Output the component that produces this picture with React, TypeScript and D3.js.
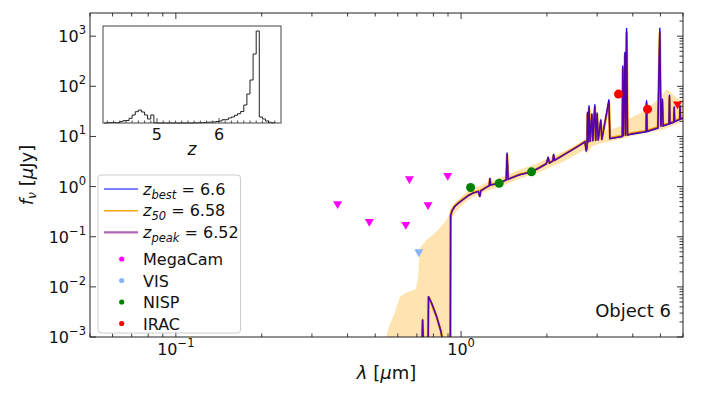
import React from 'react';
import * as d3 from 'd3';

// best-fit / z50 / zpeak model SEDs, lambda in micron, flux in microJy
const sedLam = [
  0.4, 0.72, 0.727, 0.733, 0.738, 0.746, 0.765, 0.769, 0.79, 0.82, 0.85, 0.875, 0.9, 0.916,
  0.919, 0.93, 0.95, 0.98, 1.02, 1.06, 1.1, 1.15, 1.163, 1.172, 1.22, 1.255, 1.262, 1.27,
  1.36, 1.44, 1.45, 1.462, 1.6, 1.77, 1.9, 1.99, 2.02, 2.04, 2.1, 2.11, 2.13, 2.4, 2.6,
  2.72, 2.745, 2.765, 2.775, 2.79, 2.81, 2.835, 2.875, 2.895, 2.945, 2.965, 3.0, 3.025,
  3.09, 3.115, 3.3, 3.325, 3.55, 3.675, 3.69, 3.71, 3.755, 3.775, 3.805, 3.835, 4.0, 4.25,
  4.455, 4.47, 4.49, 4.9, 4.975, 5.02, 5.08, 5.11, 5.36, 5.38, 5.4, 5.57, 5.59, 5.61, 5.84,
  5.86, 5.88, 6.2,
];
const fluxBest = [
  1e-5, 1e-5, 2e-4, 0.0022, 6e-4, 2e-4, 2e-4, 0.0064, 0.0046, 0.0026, 0.0013, 5e-4, 1e-4, 1e-5,
  0.26, 0.33, 0.4, 0.47, 0.56, 0.66, 0.74, 0.8, 0.62, 0.82, 0.95, 1.04, 1.5, 1.08,
  1.16, 1.36, 4.8, 1.4, 1.72, 1.97, 2.45, 2.85, 3.9, 2.95, 3.25, 4.5, 3.35, 5.0, 6.6,
  7.8, 5.0, 6.0, 31, 7.5, 42, 7.8, 29, 8.0, 44, 8.2, 30, 8.3,
  22, 8.5, 55, 9.0, 9.6, 9.9, 260, 10.1, 490, 10.4, 1450, 10.6, 11.2, 11.8,
  12.3, 53, 12.5, 14.6, 1480, 15.6, 57, 16.1, 17.6, 68, 17.9, 19.2, 40, 19.6, 21.8,
  42, 22.2, 24,
];
const flux50 = [
  1e-5, 1e-5, 2e-4, 0.0021, 6e-4, 2e-4, 2e-4, 0.0062, 0.0045, 0.0026, 0.0013, 5e-4, 1e-4, 1e-5,
  0.27, 0.34, 0.41, 0.48, 0.57, 0.67, 0.75, 0.81, 0.66, 0.83, 0.96, 1.05, 1.4, 1.09,
  1.17, 1.37, 4.2, 1.41, 1.74, 1.99, 2.47, 2.88, 3.6, 2.98, 3.28, 4.1, 3.38, 5.1, 6.7,
  8.0, 5.4, 6.3, 27, 7.8, 36, 8.1, 26, 8.3, 38, 8.5, 27, 8.6,
  20, 8.8, 48, 9.3, 10.0, 10.3, 220, 10.5, 420, 10.8, 1150, 11.0, 11.7, 12.3,
  12.8, 46, 13.0, 15.2, 1150, 16.2, 50, 16.7, 18.2, 60, 18.5, 19.8, 36, 20.2, 22.4,
  38, 22.8, 24.6,
];
const fluxPeak = [
  1e-5, 1e-5, 2e-4, 0.0023, 6e-4, 2e-4, 2e-4, 0.0065, 0.0046, 0.0026, 0.0013, 5e-4, 1e-4, 1e-5,
  0.26, 0.33, 0.4, 0.47, 0.56, 0.66, 0.74, 0.8, 0.64, 0.82, 0.95, 1.04, 1.45, 1.08,
  1.16, 1.36, 4.5, 1.4, 1.73, 1.98, 2.46, 2.86, 3.7, 2.96, 3.26, 4.3, 3.36, 5.05, 6.65,
  7.9, 5.2, 6.1, 29, 7.6, 39, 7.9, 27, 8.1, 41, 8.3, 28, 8.4,
  21, 8.6, 51, 9.1, 9.8, 10.1, 240, 10.3, 450, 10.6, 1300, 10.8, 11.5, 12.1,
  12.6, 49, 12.8, 15.0, 1300, 16.0, 53, 16.5, 18.0, 64, 18.3, 19.6, 38, 20.0, 22.2,
  40, 22.6, 24.4,
];

// 1-sigma band around the model
const bandLam = [
  0.53, 0.56, 0.587, 0.611, 0.636, 0.66, 0.695, 0.708, 0.714, 0.718, 0.758, 0.8, 0.832, 0.862,
  0.891, 0.915, 0.918, 0.94, 0.966, 1.0, 1.05, 1.1, 1.2, 1.3, 1.45, 1.6, 1.8, 2.0, 2.2, 2.4,
  2.6, 2.72, 2.76, 2.9, 3.1, 3.4, 3.61, 3.92, 4.13, 4.48, 4.99, 5.27, 5.5, 5.71, 6.0, 6.2,
];
const bandLo = [
  1e-5, 1e-5, 1e-5, 1e-5, 1e-5, 1e-5, 1e-5, 1e-5, 1e-5, 1e-5, 1e-5, 1e-5, 1e-5, 1e-5,
  1e-5, 1e-5, 0.2, 0.27, 0.33, 0.42, 0.53, 0.62, 0.78, 0.92, 1.15, 1.45, 1.8, 2.3, 2.9, 3.7,
  4.8, 5.6, 4.6, 6.6, 7.4, 8.3, 9.0, 10.2, 10.8, 11.8, 13.5, 15.0, 16.5, 18.0, 20.0, 21.0,
];
const bandHi = [
  5e-4, 0.0016, 0.003, 0.0062, 0.0074, 0.008, 0.0088, 0.015, 0.03, 0.058, 0.086, 0.11, 0.136, 0.17,
  0.215, 0.3, 0.34, 0.42, 0.5, 0.62, 0.78, 0.9, 1.1, 1.32, 1.7, 2.15, 2.7, 3.5, 4.4, 5.6,
  7.2, 8.3, 8.5, 10.5, 12.5, 14.0, 15.6, 22.9, 26.6, 33.4, 61, 84, 70, 57, 53, 52,
];

// photometry
const megacamLam = [0.369, 0.477, 0.64, 0.659, 0.766, 0.898];
const megacamFlux = [0.43, 0.19, 0.166, 1.35, 0.41, 1.57];
const visLam = [0.711];
const visFlux = [0.047];
const nispLam = [1.08, 1.36, 1.766];
const nispFlux = [0.96, 1.16, 1.97];
const iracLam = [3.565, 4.505];
const iracFlux = [70, 35];
const iracLimLam = [5.74];
const iracLimFlux = [42];

// redshift posterior histogram (inset)
const zEdges = [
  4.15, 4.2, 4.25, 4.3, 4.35, 4.4, 4.45, 4.5, 4.55, 4.6, 4.65, 4.7, 4.75, 4.8, 4.85, 4.9, 4.95,
  5.0, 5.05, 5.1, 5.15, 5.2, 5.25, 5.3, 5.35, 5.4, 5.45, 5.5, 5.55, 5.6, 5.65, 5.7, 5.75, 5.8,
  5.85, 5.9, 5.95, 6.0, 6.05, 6.1, 6.15, 6.2, 6.25, 6.3, 6.35, 6.4, 6.45, 6.5, 6.55, 6.6, 6.65,
  6.7, 6.75, 6.8, 6.85, 6.9,
];
const zCounts = [
  0, 3, 5, 5, 3, 13, 23, 25, 47, 80, 113, 130, 110, 80, 40, 80, 3,
  0, 0, 0, 0, 0, 0, 0, 0, 0, 0, 0, 0, 2, 2, 3, 5, 7,
  10, 10, 15, 20, 33, 33, 50, 60, 77, 93, 115, 180, 290, 430, 690, 920, 60,
  40, 20, 7, 2,
];

const legendLines = [
  { sub: 'best', val: '6.6', color: '#0000ff', width: 1.2, opacity: 1 },
  { sub: '50', val: '6.58', color: '#ffa500', width: 1.5, opacity: 1 },
  { sub: 'peak', val: '6.52', color: '#800080', width: 2.2, opacity: 0.6 },
];
const legendDots = [
  { name: 'MegaCam', color: '#ff00ff' },
  { name: 'VIS', color: '#89b4f7' },
  { name: 'NISP', color: '#008000' },
  { name: 'IRAC', color: '#ff0000' },
];

const FONT = 'DejaVu Sans';
const L = 90, R = 683, T = 13, B = 337;

const App = () => {
  const x = d3.scaleLog().domain([0.05, 6.0]).range([L, R]);
  const y = d3.scaleLog().domain([1e-3, 2900]).range([B, T]);

  const line = (fl: number[]) =>
    d3.line<number>().x((_, i) => x(sedLam[i])).y(d => y(Math.max(d, 1e-6)))(fl) || '';

  const band = d3
    .area<number>()
    .x(d => x(d))
    .y0((_, i) => y(bandLo[i]))
    .y1((_, i) => y(bandHi[i]))(bandLam) || '';

  const xTicks = x.ticks();
  const yTicks = y.ticks();
  const isMajor = (v: number) => Math.abs(Math.log10(v) - Math.round(Math.log10(v))) < 1e-6;

  const tri = (cx: number, cy: number) =>
    `M${cx - 4.5},${cy - 3.8}L${cx + 4.5},${cy - 3.8}L${cx},${cy + 4}Z`;

  const pow = (v: number) => {
    const e = Math.round(Math.log10(v));
    return (
      <>
        10<tspan dy={-8} fontSize={11.5}>{e < 0 ? '\u2212' + -e : String(e)}</tspan>
      </>
    );
  };

  // inset
  const iL = 103, iR = 281, iT = 26, iB = 123;
  const zx = d3.scaleLinear().domain([4.13, 7.0]).range([iL, iR]);
  const zy = d3.scaleLinear().domain([0, 970]).range([iB, iT]);
  let histPath = `M${zx(zEdges[0])},${zy(0)}`;
  zCounts.forEach((c, i) => {
    histPath += `L${zx(zEdges[i])},${zy(c)}L${zx(zEdges[i + 1])},${zy(c)}`;
  });
  histPath += `L${zx(zEdges[zEdges.length - 1])},${zy(0)}`;
  const zMinor = d3.range(42, 70).map(v => v / 10);

  return (
    <svg width={703} height={395} style={{ display: 'block', position: 'absolute', left: 0, top: 0 }} fontFamily={FONT}>
      <rect width={703} height={395} fill="#fff" />
      <defs>
        <clipPath id="plotclip">
          <rect x={L} y={T} width={R - L} height={B - T} />
        </clipPath>
      </defs>

      <g clipPath="url(#plotclip)">
        <path d={band} fill="#ffa500" fillOpacity={0.3} stroke="#ffa500" strokeOpacity={0.15} />
        <path d={line(flux50)} fill="none" stroke="#ffa500" strokeWidth={2.6} strokeLinejoin="round" />
        <path d={line(fluxBest)} fill="none" stroke="#0000ff" strokeWidth={1.3} />
        <path d={line(fluxPeak)} fill="none" stroke="#800080" strokeWidth={1.5} strokeOpacity={0.65} />

        {megacamLam.map((l, i) => (
          <path key={'m' + i} d={tri(x(l), y(megacamFlux[i]))} fill="#ff00ff" />
        ))}
        {visLam.map((l, i) => (
          <path key={'v' + i} d={tri(x(l), y(visFlux[i]))} fill="#89b4f7" />
        ))}
        {nispLam.map((l, i) => (
          <circle key={'n' + i} cx={x(l)} cy={y(nispFlux[i])} r={4.5} fill="#008000" />
        ))}
        {iracLam.map((l, i) => (
          <circle key={'i' + i} cx={x(l)} cy={y(iracFlux[i])} r={4.5} fill="#ff0000" />
        ))}
        {iracLimLam.map((l, i) => (
          <path key={'il' + i} d={tri(x(l), y(iracLimFlux[i]))} fill="#ff0000" />
        ))}
      </g>

      {/* x ticks bottom and top */}
      {xTicks.map((v, i) => {
        const len = isMajor(v) ? 6 : 3.5;
        const xx = x(v);
        return (
          <g key={'xt' + i} stroke="#222" strokeWidth={0.9}>
            <line x1={xx} x2={xx} y1={B} y2={B - len} />
            <line x1={xx} x2={xx} y1={T} y2={T + len} />
          </g>
        );
      })}
      {xTicks.filter(isMajor).map((v, i) => (
        <text key={'xl' + i} x={x(v)} y={355} textAnchor="middle" fontSize={16} fill="#111">
          {pow(v)}
        </text>
      ))}

      {/* y ticks: majors both sides, minors right */}
      {yTicks.map((v, i) => {
        const major = isMajor(v);
        const len = major ? 6 : 3.5;
        const yy = y(v);
        return (
          <g key={'yt' + i} stroke="#222" strokeWidth={0.9}>
            {major && <line x1={L} x2={L + len} y1={yy} y2={yy} />}
            <line x1={R} x2={R - len} y1={yy} y2={yy} />
          </g>
        );
      })}
      {yTicks.filter(isMajor).map((v, i) => (
        <text key={'yl' + i} x={86} y={y(v) + 6} textAnchor="end" fontSize={16} fill="#111">
          {pow(v)}
        </text>
      ))}

      <rect x={L} y={T} width={R - L} height={B - T} fill="none" stroke="#222" strokeWidth={1} />

      {/* axis labels */}
      <text x={(L + R) / 2} y={379} textAnchor="middle" fontSize={18} fill="#111">
        <tspan fontStyle="italic">λ</tspan> [<tspan fontStyle="italic">μ</tspan>m]
      </text>
      <text transform={`translate(33,${(T + B) / 2}) rotate(-90)`} textAnchor="middle" fontSize={18} fill="#111">
        <tspan fontStyle="italic">f</tspan>
        <tspan fontStyle="italic" fontSize={12.5} dy={3}>ν</tspan>
        <tspan dy={-3}> [</tspan>
        <tspan fontStyle="italic">μ</tspan>Jy]
      </text>

      <text x={671} y={316.5} textAnchor="end" fontSize={18} fill="#111">Object 6</text>

      {/* legend */}
      <rect x={98} y={175} width={142.5} height={158} rx={3} fill="#fff" fillOpacity={0.8} stroke="#ccc" strokeWidth={1} />
      {legendLines.map((d, i) => {
        const cy = 189 + i * 21.7;
        return (
          <g key={'ll' + i}>
            <line x1={104} x2={138} y1={cy} y2={cy} stroke={d.color} strokeWidth={d.width} strokeOpacity={d.opacity} />
            <text x={143} y={cy + 5.5} fontSize={16} fill="#111">
              <tspan fontStyle="italic">z</tspan>
              <tspan fontStyle="italic" fontSize={11.5} dy={4}>{d.sub}</tspan>
              <tspan dy={-4}>{' = ' + d.val}</tspan>
            </text>
          </g>
        );
      })}
      {legendDots.map((d, i) => {
        const cy = 259 + i * 21.5;
        return (
          <g key={'ld' + i}>
            <circle cx={121.7} cy={cy} r={2.6} fill={d.color} />
            <text x={143} y={cy + 6} fontSize={16} fill="#111">{d.name}</text>
          </g>
        );
      })}

      {/* inset: redshift distribution */}
      <rect x={iL} y={iT} width={iR - iL} height={iB - iT} fill="#fff" />
      <path d={histPath} fill="none" stroke="#222" strokeWidth={1} />
      {zMinor.map((v, i) => {
        const major = Math.abs(v - Math.round(v)) < 1e-6;
        return (
          <line key={'zt' + i} x1={zx(v)} x2={zx(v)} y1={iB} y2={iB - (major ? 5 : 2.5)} stroke="#222" strokeWidth={0.8} />
        );
      })}
      <rect x={iL} y={iT} width={iR - iL} height={iB - iT} fill="none" stroke="#444" strokeWidth={1} />
      {[5, 6].map(v => (
        <text key={'zl' + v} x={zx(v)} y={140} textAnchor="middle" fontSize={16} fill="#111">{v}</text>
      ))}
      <text x={(iL + iR) / 2} y={155} textAnchor="middle" fontSize={17} fontStyle="italic" fill="#111">z</text>
    </svg>
  );
};

export default App;
